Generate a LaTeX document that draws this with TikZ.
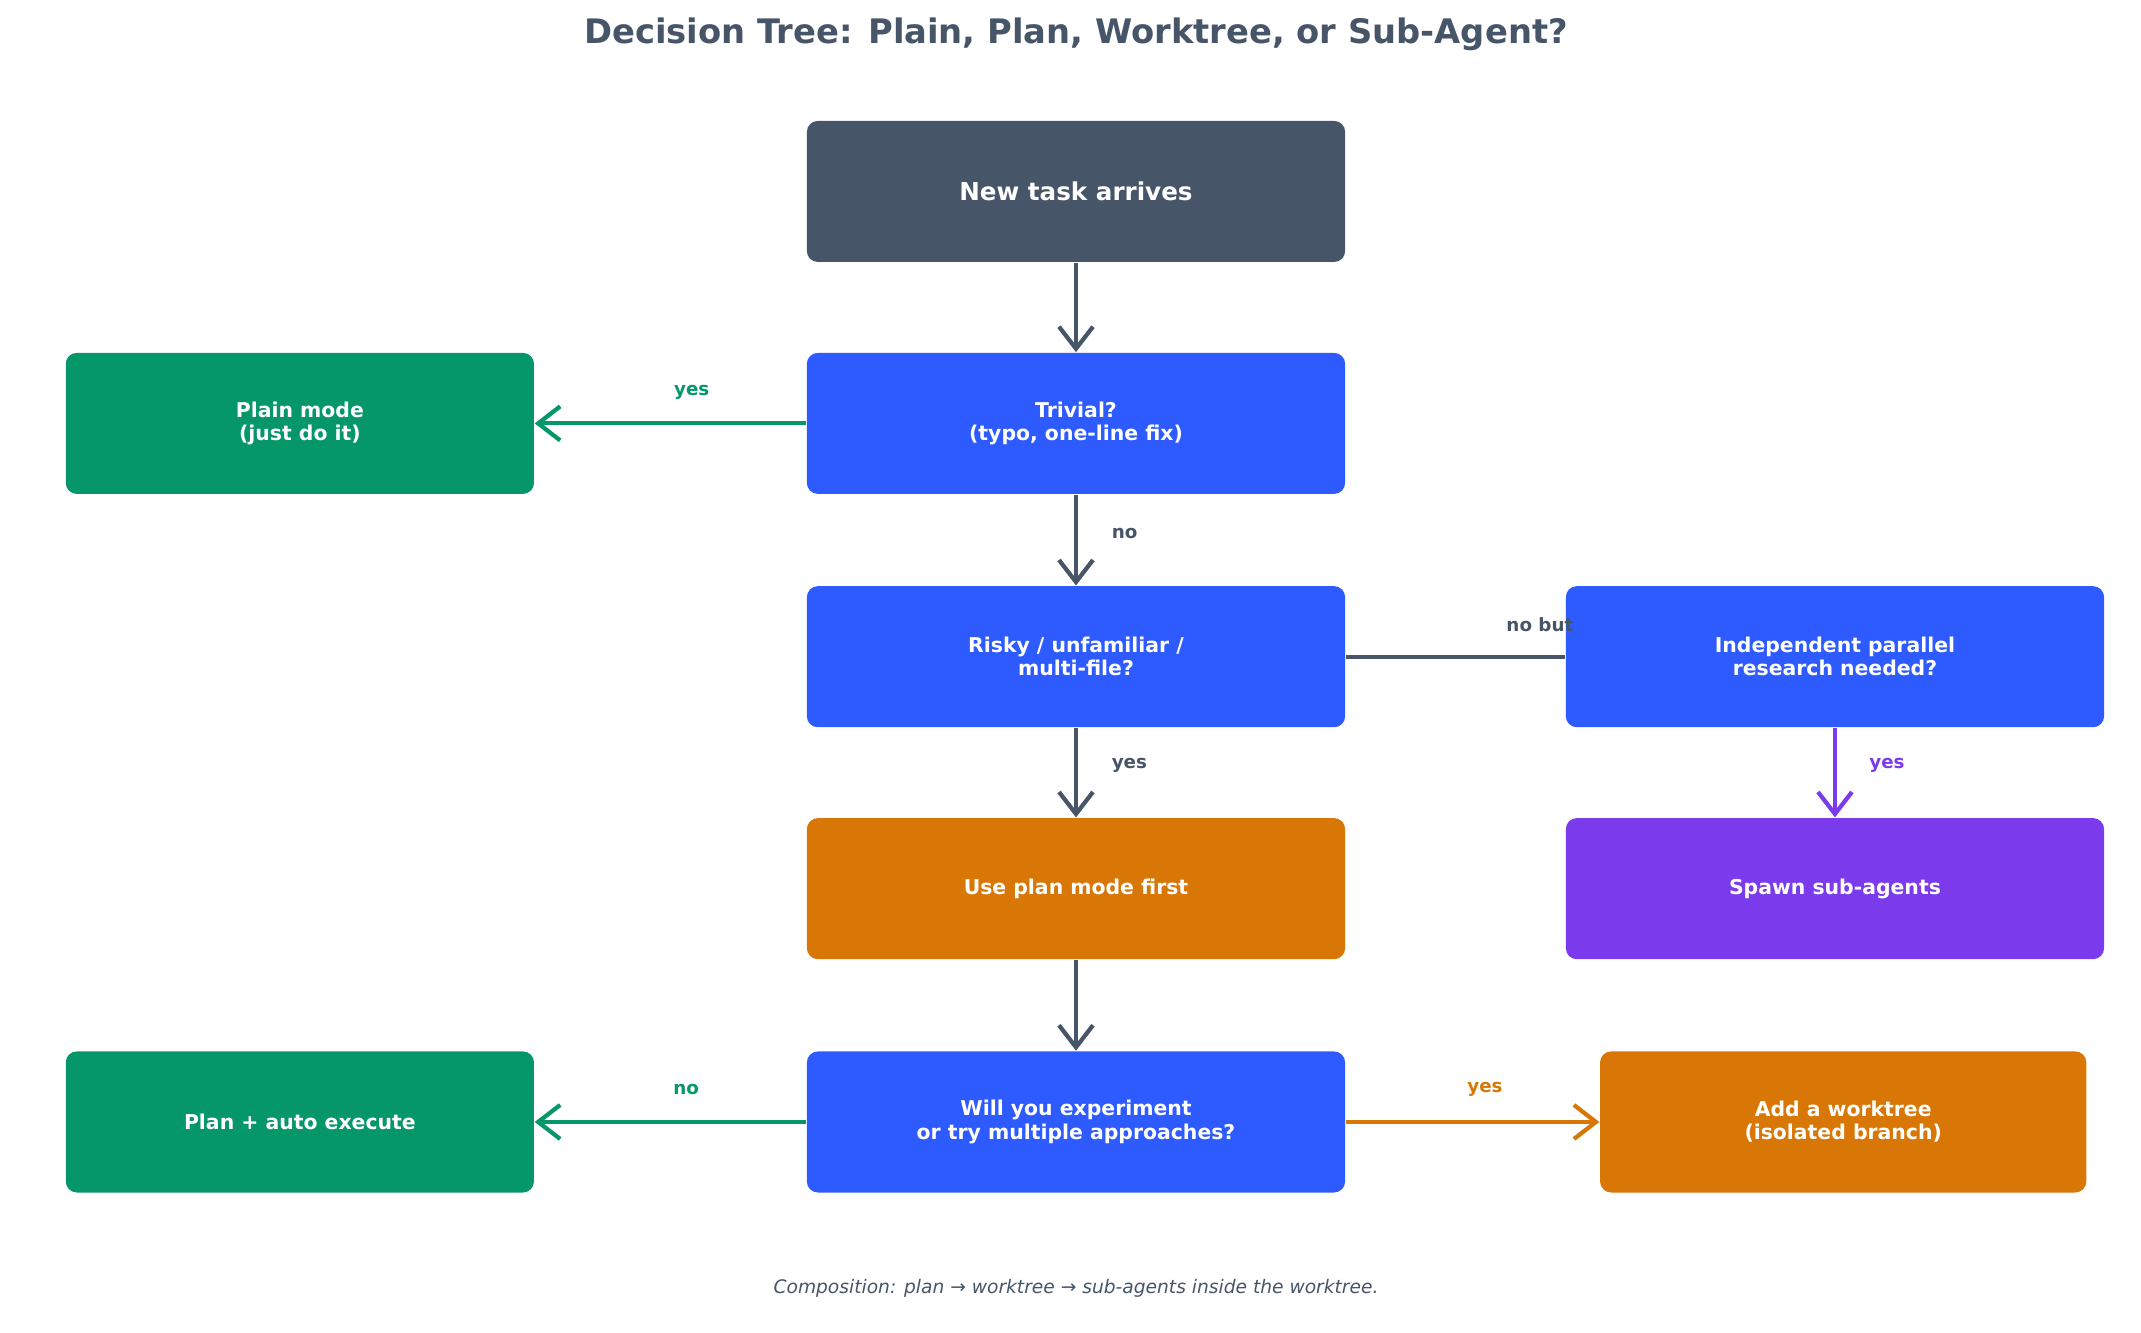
\documentclass[tikz,border=0pt]{standalone}
\usepackage{fontspec}
\setmainfont{DejaVu Sans}
\usetikzlibrary{arrows.meta}
\definecolor{slate}{HTML}{475569}
\definecolor{bluebox}{HTML}{2E5BFF}
\definecolor{greenbox}{HTML}{059669}
\definecolor{orangebox}{HTML}{D97706}
\definecolor{purplebox}{HTML}{7C3AED}
\tikzset{box/.style = {rounded corners=0.11cm, minimum width=5.38cm, minimum height=1.41cm, align=center, text=white, font=\fontsize{5.8}{6.6}\selectfont\bfseries}}
\tikzset{flow/.style = {line width=1.2pt, -{Straight Barb[length=2.2mm, width=3.4mm, line width=1.2pt]}}}
\tikzset{lbl/.style = {font=\fontsize{5.2}{6}\selectfont\bfseries}}

\begin{document}
\begin{tikzpicture}[x=0.013724cm, y=-0.013724cm]
  \useasboundingbox (0,0) rectangle (1560,970.6);
  \node [font=\fontsize{9.6}{11}\selectfont\bfseries, text=slate] (title) at (784,25) {Decision Tree: Plain, Plan, Worktree, or Sub-Agent?};

  \node [box, fill=slate, font=\fontsize{7}{8}\selectfont\bfseries] (new) at (784,139.5) {New task arrives};
  \node [box, fill=bluebox] (trivial) at (784,308.5) {Trivial?\\(typo, one-line fix)};
  \node [box, fill=bluebox] (risky) at (784,478.5) {Risky / unfamiliar /\\multi-file?};
  \node [box, fill=orangebox] (plan) at (784,647.5) {Use plan mode first};
  \node [box, fill=bluebox] (exp) at (784,817.5) {Will you experiment\\or try multiple approaches?};
  \node [box, fill=greenbox, minimum width=4.68cm] (plain) at (218.5,308.5) {Plain mode\\(just do it)};
  \node [box, fill=greenbox, minimum width=4.68cm] (auto) at (218.5,817.5) {Plan + auto execute};
  \node [box, fill=bluebox] (indep) at (1337,478.5) {Independent parallel\\research needed?};
  \node [box, fill=purplebox] (spawn) at (1337,647.5) {Spawn sub-agents};
  \node [box, fill=orangebox, minimum width=4.86cm] (work) at (1343,817.5) {Add a worktree\\(isolated branch)};

  \draw [flow, slate] (new) -- (trivial);
  \draw [flow, greenbox] (trivial) -- (plain);
  \draw [flow, slate] (trivial) -- (risky);
  \draw [line width=1.2pt, slate] (risky) -- (indep);
  \draw [flow, slate] (risky) -- (plan);
  \draw [flow, purplebox] (indep) -- (spawn);
  \draw [flow, slate] (plan) -- (exp);
  \draw [flow, greenbox] (exp) -- (auto);
  \draw [flow, orangebox] (exp) -- (work);

  \node [lbl, text=greenbox] (l1) at (504,286) {yes};
  \node [lbl, text=slate, anchor=west] (l2) at (801,389) {no};
  \node [lbl, text=slate] (l3) at (1122,455) {no but};
  \node [lbl, text=slate, anchor=west] (l4) at (801,558) {yes};
  \node [lbl, text=purplebox, anchor=west] (l5) at (1353,558) {yes};
  \node [lbl, text=greenbox] (l6) at (500,794) {no};
  \node [lbl, text=orangebox] (l7) at (1082,794) {yes};

  \node [font=\fontsize{5.3}{6}\selectfont\itshape, text=slate] (cap) at (784,939) {Composition: plan → worktree → sub-agents inside the worktree.};
\end{tikzpicture}
\end{document}
